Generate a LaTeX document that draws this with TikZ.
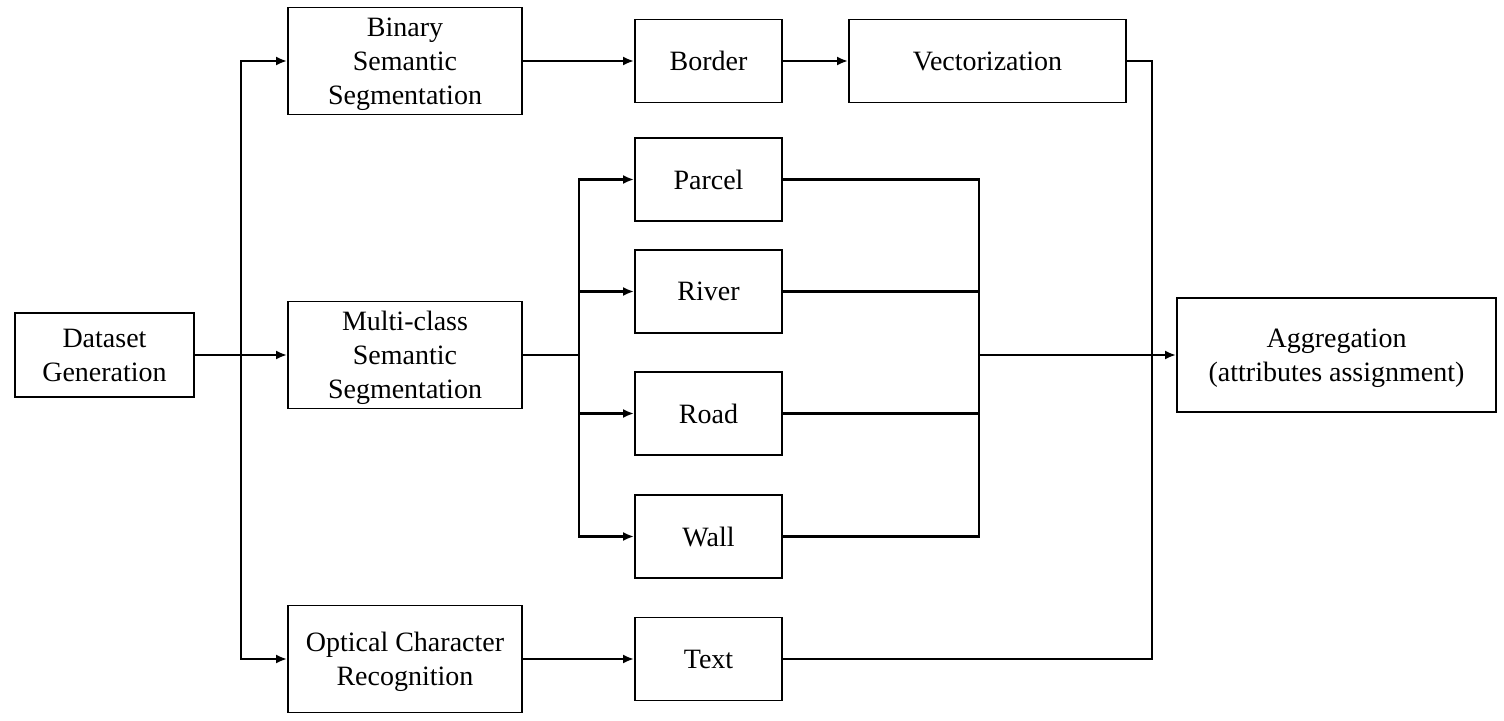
\documentclass[tikz,border=0pt]{standalone}
\usepackage{fontspec}
\setmainfont{Liberation Serif}
\usetikzlibrary{arrows.meta}
\tikzset{
    stage/.style={draw, line width=1.9pt, align=center, inner sep=0pt, text depth=0pt, font=\fontsize{28}{34}\selectfont},
    wire/.style={line width=2.8pt},
    feed/.style={wire, -{Latex[length=11pt,width=9pt]}}
}

\begin{document}
\begin{tikzpicture}[x=1pt,y=-1pt]
    \useasboundingbox (0,0) rectangle (1504,720);
    % boxes
    \node[stage, minimum width=179pt, minimum height=84pt] (dataset) at (104.5,355) {Dataset\\Generation};
    \node[stage, minimum width=234pt, minimum height=107pt] (binary) at (405,61) {Binary\\Semantic\\Segmentation};
    \node[stage, minimum width=234pt, minimum height=107pt] (multi) at (405,355) {Multi-class\\Semantic\\Segmentation};
    \node[stage, minimum width=234pt, minimum height=107pt] (ocr) at (405,659) {Optical Character\\Recognition};
    \node[stage, minimum width=147pt, minimum height=83pt] (border) at (708.5,61) {Border};
    \node[stage, minimum width=277pt, minimum height=83pt] (vector) at (987.5,61) {Vectorization};
    \node[stage, minimum width=147pt, minimum height=83pt] (parcel) at (708.5,179.5) {Parcel};
    \node[stage, minimum width=147pt, minimum height=83pt] (river) at (708.5,291.5) {River};
    \node[stage, minimum width=147pt, minimum height=83pt] (road) at (708.5,413.5) {Road};
    \node[stage, minimum width=147pt, minimum height=83pt] (wall) at (708.5,536.5) {Wall};
    \node[stage, minimum width=147pt, minimum height=83pt] (text) at (708.5,659) {Text};
    \node[stage, minimum width=319pt, minimum height=114pt] (aggr) at (1336.5,355) {Aggregation\\(attributes assignment)};
    % junctions
    \coordinate (forkA) at (241,355);
    \coordinate (forkB) at (579,355);
    \coordinate (joinA) at (979,355);
    \coordinate (joinB) at (1152,355);
    % connectors
    \draw[wire] (dataset.east) -- (forkA);
    \draw[feed] (forkA) |- (binary.west);
    \draw[feed] (forkA) -- (multi.west);
    \draw[feed] (forkA) |- (ocr.west);
    \draw[feed] (binary.east) -- (border.west);
    \draw[feed] (border.east) -- (vector.west);
    \draw[feed] (ocr.east) -- (text.west);
    \draw[wire] (multi.east) -- (forkB);
    \foreach \cls in {parcel,river,road,wall}
        \draw[feed] (forkB) |- (\cls.west);
    \foreach \cls in {parcel,river,road,wall}
        \draw[wire] (\cls.east) -| (joinA);
    \draw[wire] (vector.east) -| (joinB);
    \draw[wire] (text.east) -| (joinB);
    \draw[feed] (joinA) -- (aggr.west);
\end{tikzpicture}
\end{document}
